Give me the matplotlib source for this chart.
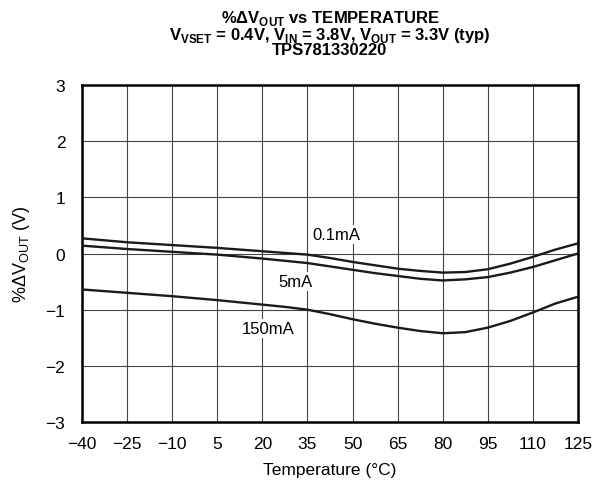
import matplotlib
matplotlib.use("Agg")
import matplotlib.pyplot as plt

plt.rcParams['font.family'] = ['Liberation Sans', 'DejaVu Sans']
plt.rcParams['mathtext.fontset'] = 'custom'
plt.rcParams['mathtext.rm'] = 'Liberation Sans'
plt.rcParams['mathtext.bf'] = 'Liberation Sans:bold'

# values
temps = [-40, -25, -10, 5, 20, 27.5, 35, 42.5, 50, 57.5, 65, 72.5, 80, 87.5, 95, 102.5, 110, 117.5, 125]
dv_01mA = [0.27, 0.20, 0.15, 0.10, 0.04, 0.01, -0.02, -0.08, -0.15, -0.21, -0.27, -0.31, -0.34, -0.33,
           -0.28, -0.18, -0.06, 0.07, 0.18]
dv_5mA = [0.14, 0.08, 0.03, -0.02, -0.09, -0.13, -0.17, -0.23, -0.29, -0.35, -0.40, -0.45, -0.48, -0.46,
          -0.42, -0.34, -0.24, -0.12, 0.0]
dv_150mA = [-0.64, -0.70, -0.76, -0.83, -0.91, -0.95, -1.0, -1.08, -1.17, -1.25, -1.32, -1.38, -1.42, -1.40,
            -1.32, -1.20, -1.05, -0.89, -0.77]

labels = ['0.1mA', '5mA', '150mA']
label_pos = [(44.6, 0.33), (31, -0.49), (22, -1.34)]

xticks = list(range(-40, 126, 15))
yticks = list(range(-3, 4))

fig = plt.figure(figsize=(5.95, 4.85), dpi=100)
ax = fig.add_axes([0.1378, 0.1278, 0.8336, 0.6949])

for series in [dv_01mA, dv_5mA, dv_150mA]:
    ax.plot(temps, series, color='#1a1a1a', linewidth=1.7, zorder=3)

for txt, (tx, ty) in zip(labels, label_pos):
    ax.text(tx, ty, txt, fontsize=12, ha='center', va='center', zorder=4,
            bbox=dict(facecolor='white', edgecolor='none', pad=1.5))

ax.set_xlim(-40, 125)
ax.set_ylim(-3, 3)
ax.set_xticks(xticks)
ax.set_yticks(yticks)
ax.tick_params(length=0, labelsize=12.5)
ax.tick_params(axis='x', pad=10)
ax.tick_params(axis='y', pad=12)
ax.grid(True, color='#444444', linewidth=0.8)
for s in ax.spines.values():
    s.set_linewidth(1.8)

ax.set_xlabel('Temperature (°C)', fontsize=12.5, labelpad=8)
ax.set_ylabel('%ΔV$_{\\mathrm{OUT}}$ (V)', fontsize=13, labelpad=10)

title = ('%ΔV$_{\\mathbf{OUT}}$ vs TEMPERATURE\n'
         'V$_{\\mathbf{VSET}}$ = 0.4V, V$_{\\mathbf{IN}}$ = 3.8V, V$_{\\mathbf{OUT}}$ = 3.3V (typ)\n'
         'TPS781330220')
ax.set_title(title, fontsize=12, fontweight='bold', linespacing=0.85, pad=22)

plt.savefig('out.png', dpi=100)
